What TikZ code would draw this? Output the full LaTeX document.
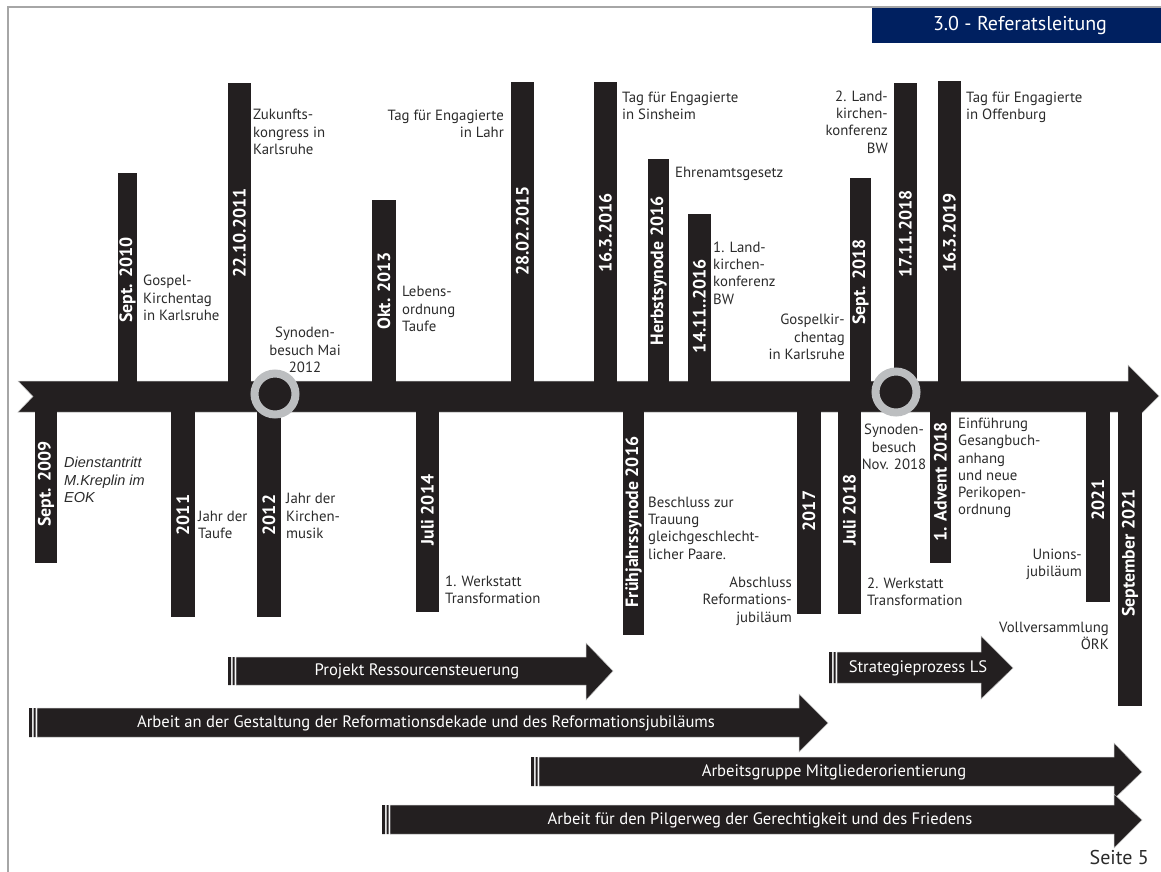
\documentclass[tikz,border=0pt]{standalone}
\usepackage{fontspec}
\setmainfont{PT Sans}
\newfontfamily\kursiv{Liberation Sans}
\definecolor{balken}{HTML}{231F20}
\definecolor{kopfblau}{HTML}{002060}
\definecolor{schrift}{HTML}{2B2B2B}
\definecolor{ringgrau}{HTML}{BCBEC0}

\begin{document}
\begin{tikzpicture}[x=1pt, y=-1pt,
  balken/.style={fill=balken},
  pfeil/.style={fill=balken, draw=gray!50, line width=0.5pt},
  datum/.style={rotate=90, text=white, inner sep=0pt, font=\bfseries\fontsize{17.8}{17.8}\selectfont},
  notiz/.style={text=schrift, inner sep=0pt, font=\fontsize{14.8}{17.3}\selectfont},
  phase/.style={text=white, inner sep=0pt, font=\fontsize{16.6}{16.6}\selectfont},
  ring/.style={draw=ringgrau, line width=8pt, fill=balken}]
\useasboundingbox (0,0) rectangle (1161,872);
\draw[gray!70, line width=1.2pt] (8,872) -- (8,7) -- (1161,7);  % page frame
\fill[kopfblau] (872,8) rectangle (1161,43);
\node[text=white, inner sep=0pt, font=\fontsize{20}{20}\selectfont] (kopf) at (1020,26) {3.0 - Referatsleitung};

% the time axis with notch on the left and arrow head on the right
\filldraw[pfeil] (18,381) -- (1128,381) -- (1128,365) -- (1159,396) -- (1128,427) -- (1128,412) -- (18,412) -- (33,396.5) -- cycle;

% bars above the axis
\fill[balken] (118,396) rectangle (137,173);
\fill[balken] (228,396) rectangle (251,83);
\fill[balken] (372,396) rectangle (396,200);
\fill[balken] (511,396) rectangle (534,82);
\fill[balken] (594,396) rectangle (617,82);
\fill[balken] (648,396) rectangle (669,159);
\fill[balken] (688,396) rectangle (711,214);
\fill[balken] (850,396) rectangle (871,178);
\fill[balken] (894,396) rectangle (917,83);
\fill[balken] (938,396) rectangle (961,81);
% bars below the axis
\fill[balken] (35,396) rectangle (57,563);
\fill[balken] (171,396) rectangle (195,617);
\fill[balken] (257,396) rectangle (281,617);
\fill[balken] (416,396) rectangle (439,612);
\fill[balken] (623,396) rectangle (644,635);
\fill[balken] (797,396) rectangle (821,614);
\fill[balken] (838,396) rectangle (861,614);
\fill[balken] (930,396) rectangle (951,563);
\fill[balken] (1086,396) rectangle (1110,602);
\fill[balken] (1118,396) rectangle (1142,706);

% synod visits
\draw[ring] (275,394) circle[radius=20.5pt];
\draw[ring] (896,392) circle[radius=20.5pt];

% dates in the bars
\node[datum] (d2010) at (127.5,280) {Sept. 2010};
\node[datum] (d2011a) at (239.5,233) {22.10.2011};
\node[datum] (d2013) at (384,291) {Okt. 2013};
\node[datum] (d2015) at (522.5,231) {28.02.2015};
\node[datum] (d2016a) at (605.5,233) {16.3.2016};
\node[datum] (d2016b) at (658.5,271) {Herbstsynode 2016};
\node[datum] (d2016c) at (699.5,306) {14.11..2016};
\node[datum] (d2018a) at (860.5,282) {Sept. 2018};
\node[datum] (d2018b) at (905.5,234) {17.11.2018};
\node[datum] (d2019) at (949.5,233) {16.3.2019};
\node[datum] (d2009) at (46,484) {Sept. 2009};
\node[datum] (d2011b) at (183,515) {2011};
\node[datum] (d2012) at (269,515) {2012};
\node[datum] (d2014) at (427.5,510) {Juli 2014};
\node[datum] (d2016d) at (633.5,522) {Frühjahrssynode 2016};
\node[datum] (d2017) at (809,511) {2017};
\node[datum] (d2018c) at (849.5,510) {Juli 2018};
\node[datum] (d2018d) at (940.5,482) {1. Advent 2018};
\node[datum] (d2021a) at (1098,500) {2021};
\node[datum] (d2021b) at (1130,553) {September 2021};

% events above the axis
\node[notiz, anchor=west, align=left] (gospel) at (143,298) {Gospel-\\Kirchentag\\in Karlsruhe};
\node[notiz, anchor=west, align=left] (zukunft) at (253,132) {Zukunfts-\\kongress in\\Karlsruhe};
\node[notiz, align=center] (synode1) at (305,350) {Synoden-\\besuch Mai\\2012};
\node[notiz, anchor=west, align=left] (lebens) at (402,309) {Lebens-\\ordnung\\Taufe};
\node[notiz, anchor=east, align=right] (lahr) at (504,124) {Tag für Engagierte\\in Lahr};
\node[notiz, anchor=west, align=left] (sinsheim) at (622,106) {Tag für Engagierte\\in Sinsheim};
\node[notiz, anchor=west] (ehrenamt) at (675,174) {Ehrenamtsgesetz};
\node[notiz, anchor=west, align=left] (landkirchen1) at (713,273) {1. Land-\\kirchen-\\konferenz\\BW};
\node[notiz, anchor=east, align=right] (gospel2) at (845,337) {Gospelkir-\\chentag\\in Karlsruhe};
\node[notiz, anchor=east, align=right] (landkirchen2) at (888,122) {2. Land-\\kirchen-\\konferenz\\BW};
\node[notiz, anchor=west, align=left] (offenburg) at (966,107) {Tag für Engagierte\\in Offenburg};
% events below the axis
\node[notiz, anchor=west, align=left, font=\kursiv\itshape\fontsize{14.5}{17.8}\selectfont] (dienst) at (64,480) {Dienstantritt\\M.Kreplin im\\EOK};
\node[notiz, anchor=west, align=left] (taufe) at (198,525) {Jahr der\\Taufe};
\node[notiz, anchor=west, align=left] (musik) at (286,516) {Jahr der\\Kirchen-\\musik};
\node[notiz, anchor=west, align=left] (werkstatt1) at (445,590) {1. Werkstatt\\Transformation};
\node[notiz, anchor=west, align=left] (trauung) at (648,528) {Beschluss zur\\Trauung\\gleichgeschlecht-\\licher Paare.};
\node[notiz, anchor=east, align=right] (abschluss) at (792,601) {Abschluss\\Reformations-\\jubiläum};
\node[notiz, align=center] (synode2) at (894,447) {Synoden-\\besuch\\Nov. 2018};
\node[notiz, anchor=west, align=left] (gesangbuch) at (958,468) {Einführung\\Gesangbuch-\\anhang\\und neue\\Perikopen-\\ordnung};
\node[notiz, anchor=east, align=right] (union) at (1082,564) {Unions-\\jubiläum};
\node[notiz, anchor=west, align=left] (werkstatt2) at (867,592) {2. Werkstatt\\Transformation};
\node[notiz, anchor=east, align=right] (oerk) at (1109,636) {Vollversammlung\\ÖRK};

% project arrows
\fill[balken] (228,657) rectangle (231,685) (232.5,657) rectangle (234.5,685);
\filldraw[pfeil] (236,657) -- (586,657) -- (586,643) -- (613,671) -- (586,700) -- (586,685) -- (236,685) -- cycle;
\node[phase] (ressourcen) at (417,671) {Projekt Ressourcensteuerung};

\fill[balken] (29,708) rectangle (32,737) (33.5,708) rectangle (35.5,737);
\filldraw[pfeil] (37,708) -- (799,708) -- (799,694) -- (828,723) -- (799,752) -- (799,737) -- (37,737) -- cycle;
\node[phase] (dekade) at (426,723) {Arbeit an der Gestaltung der Reformationsdekade und des Reformationsjubiläums};

\fill[balken] (829,652) rectangle (832,683) (833.5,652) rectangle (835.5,683);
\filldraw[pfeil] (837,652) -- (981,652) -- (981,636) -- (1013,668) -- (981,699) -- (981,683) -- (837,683) -- cycle;
\node[phase] (strategie) at (918,668) {Strategieprozess LS};

\fill[balken] (531,757) rectangle (534,786) (535.5,757) rectangle (537.5,786);
\filldraw[pfeil] (539,757) -- (1114,757) -- (1114,743) -- (1142,772) -- (1114,799) -- (1114,786) -- (539,786) -- cycle;
\node[phase] (mitglieder) at (834,772) {Arbeitsgruppe Mitgliederorientierung};

\fill[balken] (382,805) rectangle (385,834) (386.5,805) rectangle (388.5,834);
\filldraw[pfeil] (390,805) -- (1114,805) -- (1114,794) -- (1142,820) -- (1114,848) -- (1114,834) -- (390,834) -- cycle;
\node[phase] (pilgerweg) at (760,820) {Arbeit für den Pilgerweg der Gerechtigkeit und des Friedens};

\node[text=schrift, inner sep=0pt, anchor=east, font=\fontsize{20}{20}\selectfont] (seite) at (1149,857) {Seite 5};
\end{tikzpicture}
\end{document}
